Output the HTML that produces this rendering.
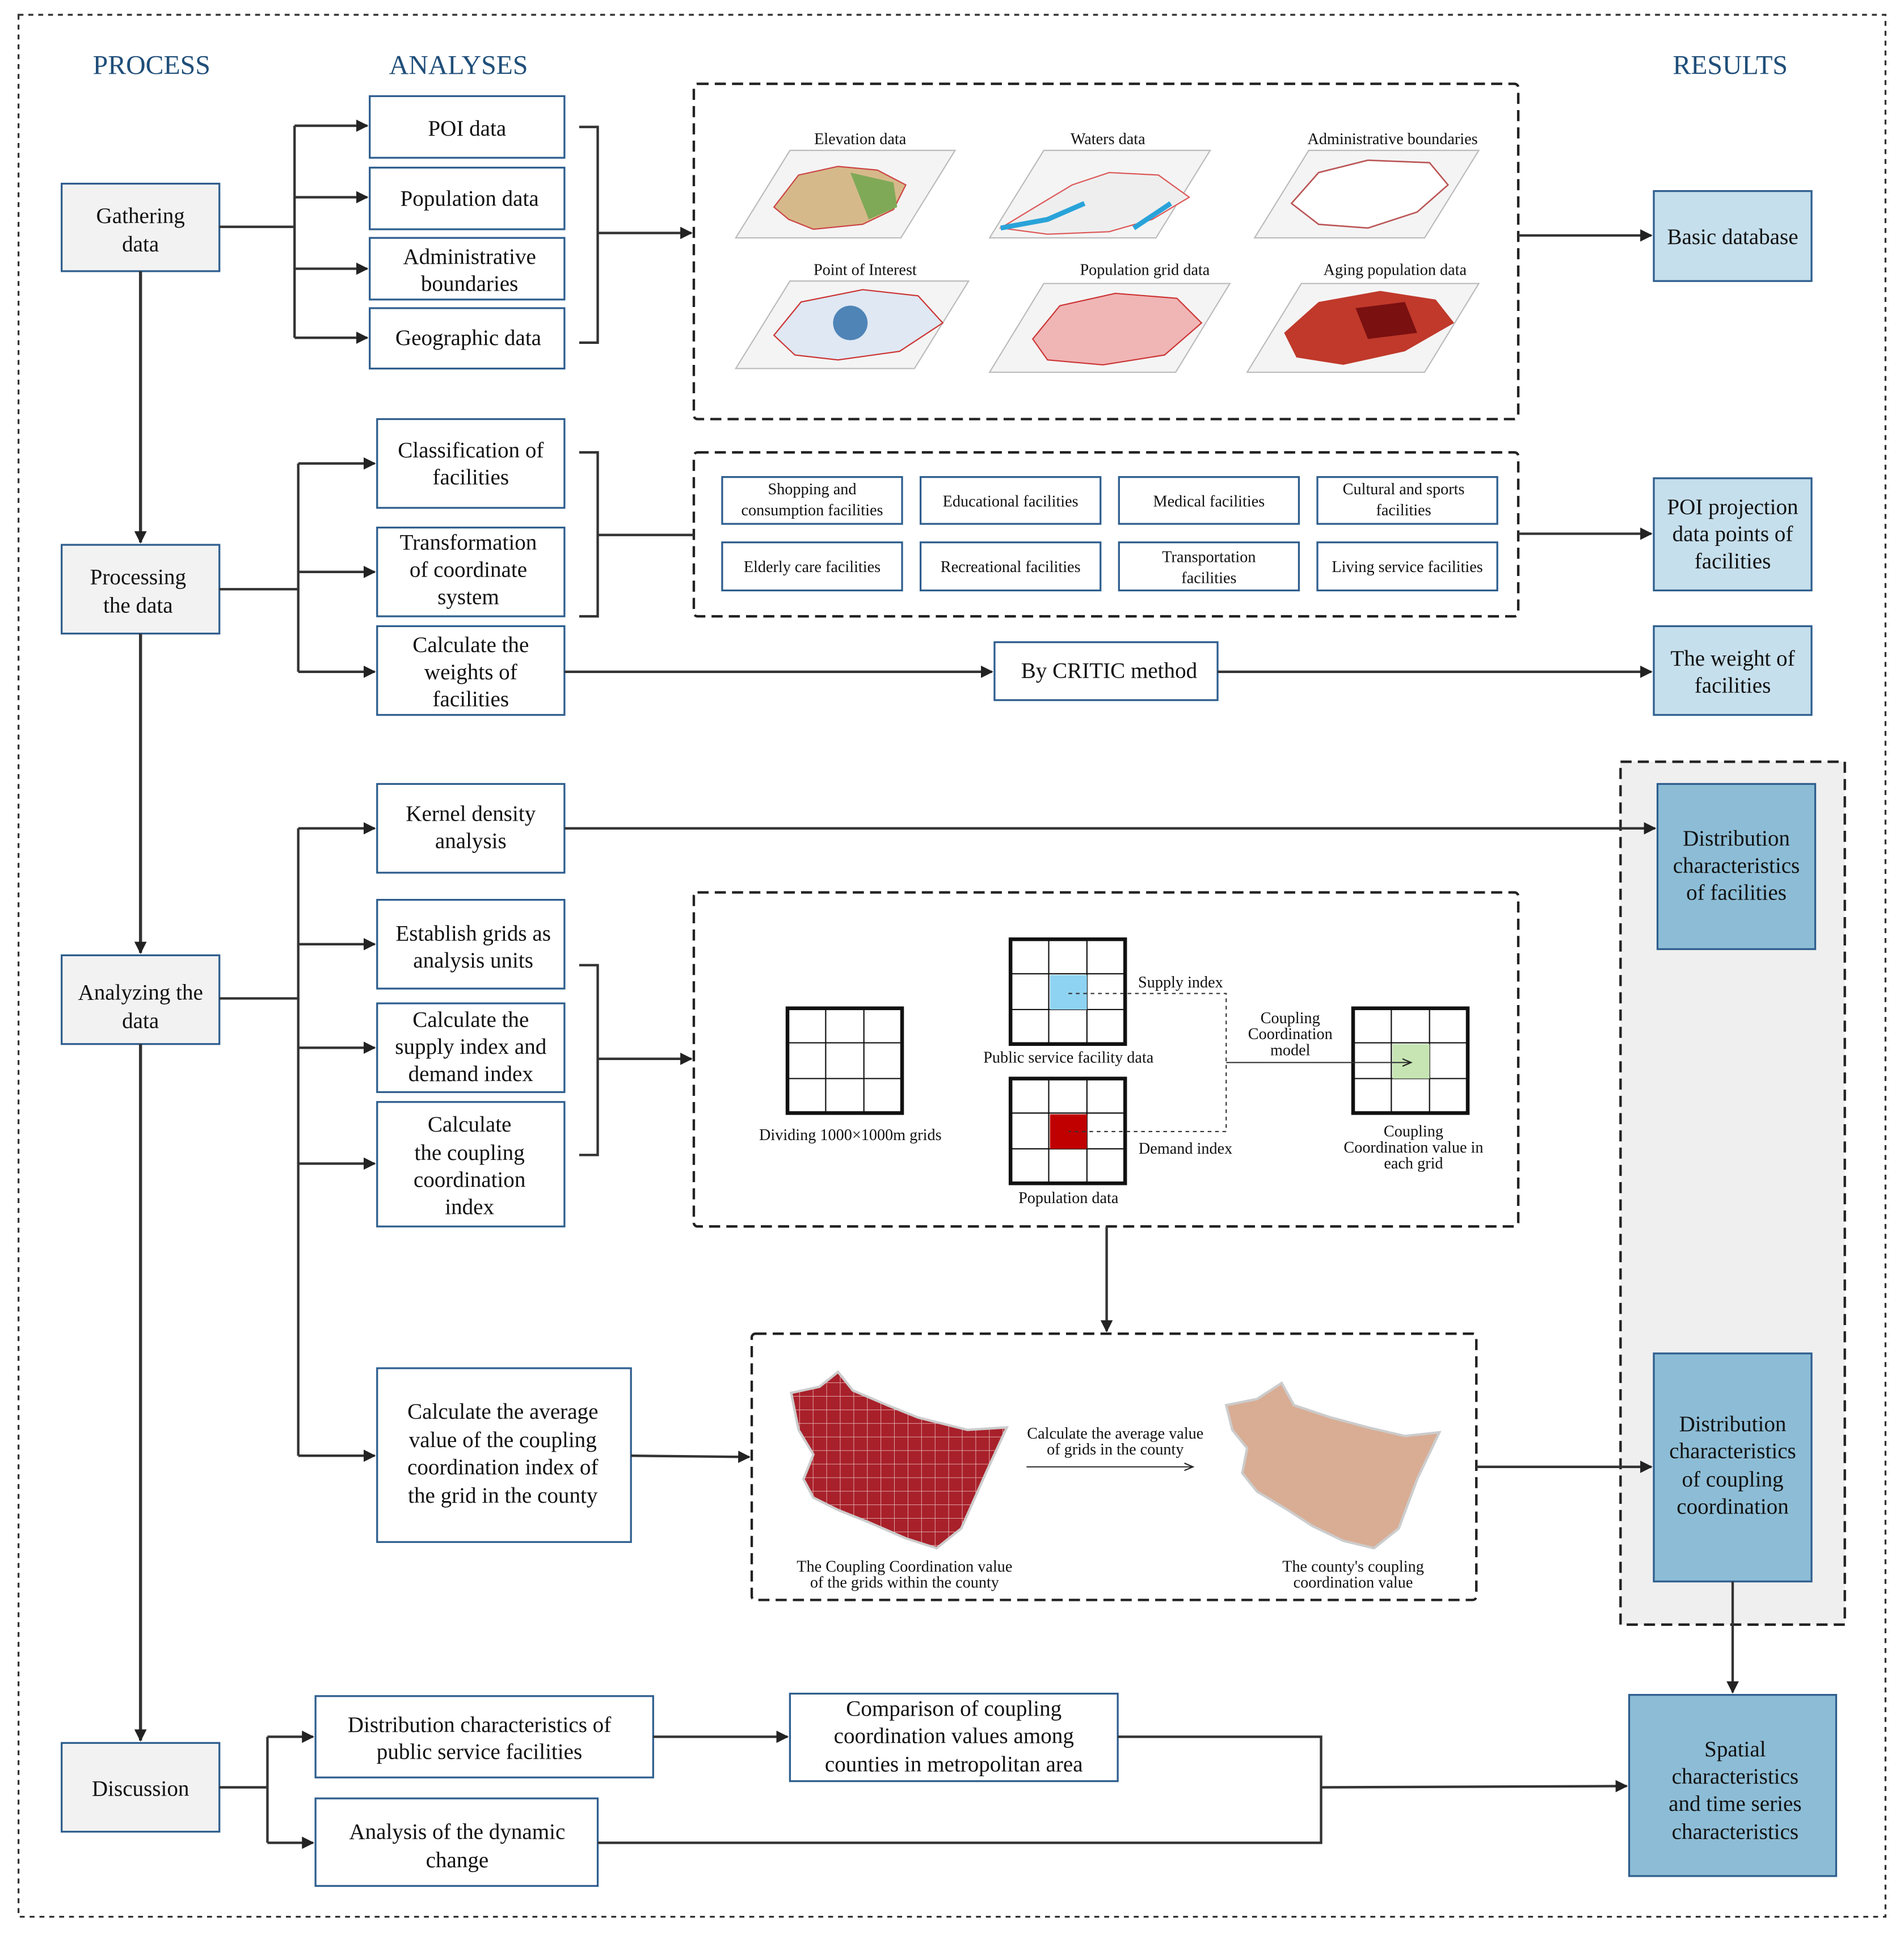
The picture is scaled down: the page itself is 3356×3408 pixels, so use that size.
<!DOCTYPE html>
<html><head><meta charset="utf-8"><style>
html,body{margin:0;padding:0;background:#fff}
svg{display:block}
text{font-family:"Liberation Serif",serif;fill:#111}
</style></head><body>
<svg width="3356" height="3408" viewBox="0 0 1545 1569" xmlns="http://www.w3.org/2000/svg">
<defs>
<marker id="ar" markerWidth="10" markerHeight="10" refX="9" refY="5" orient="auto" markerUnits="userSpaceOnUse"><path d="M0,0 L10,5 L0,10 z" fill="#222"/></marker>
<marker id="as" markerWidth="8" markerHeight="8" refX="7" refY="4" orient="auto" markerUnits="userSpaceOnUse"><path d="M0,1 L7,4 L0,7" fill="none" stroke="#222"/></marker>
<pattern id="gr" width="11" height="11" patternUnits="userSpaceOnUse"><rect width="11" height="11" fill="#a8202a"/><path d="M11,0 V11 H0" stroke="#e9b7b7" stroke-width="0.8" fill="none"/></pattern>
</defs>
<rect width="1545" height="1569" fill="#fff"/>
<rect x="15" y="12" width="1515" height="1543" fill="none" stroke="#333" stroke-width="1.5" stroke-dasharray="4,4"/>
<g font-size="22" style="fill:#1f4e79">
<text x="123" y="60" text-anchor="middle" style="fill:#1f4e79">PROCESS</text>
<text x="372" y="60" text-anchor="middle" style="fill:#1f4e79">ANALYSES</text>
<text x="1404" y="60" text-anchor="middle" style="fill:#1f4e79">RESULTS</text>
</g>
<!-- results panel -->
<rect x="1315" y="618" width="182" height="700" fill="#efefef" stroke="#222" stroke-width="2" stroke-dasharray="9,5"/>
<g stroke="#2e5e8e" stroke-width="1.5" fill="#f2f2f2">
<rect x="50" y="149" width="128" height="71"/>
<rect x="50" y="442" width="128" height="72"/>
<rect x="50" y="775" width="128" height="72"/>
<rect x="50" y="1414" width="128" height="72"/>
</g>
<g stroke="#2e5e8e" stroke-width="1.5" fill="#fff">
<rect x="300" y="78" width="158" height="50"/>
<rect x="300" y="136" width="158" height="50"/>
<rect x="300" y="193" width="158" height="50"/>
<rect x="300" y="250" width="158" height="49"/>
<rect x="306" y="340" width="152" height="72"/>
<rect x="306" y="428" width="152" height="72"/>
<rect x="306" y="508" width="152" height="72"/>
<rect x="807" y="521" width="181" height="47"/>
<rect x="306" y="636" width="152" height="72"/>
<rect x="306" y="730" width="152" height="72"/>
<rect x="306" y="814" width="152" height="72"/>
<rect x="306" y="894" width="152" height="101"/>
<rect x="306" y="1110" width="206" height="141"/>
<rect x="256" y="1376" width="274" height="66"/>
<rect x="256" y="1459" width="229" height="71"/>
<rect x="641" y="1374" width="266" height="71"/>
<rect x="586" y="387" width="146" height="38"/><rect x="747" y="387" width="146" height="38"/><rect x="908" y="387" width="146" height="38"/><rect x="1069" y="387" width="146" height="38"/>
<rect x="586" y="440" width="146" height="39"/><rect x="747" y="440" width="146" height="39"/><rect x="908" y="440" width="146" height="39"/><rect x="1069" y="440" width="146" height="39"/>
</g>
<g stroke="#2e5e8e" stroke-width="1.5">
<rect x="1342" y="155" width="128" height="73" fill="#c6dfec"/>
<rect x="1342" y="388" width="128" height="91" fill="#c6dfec"/>
<rect x="1342" y="508" width="128" height="72" fill="#c6dfec"/>
<rect x="1345" y="636" width="128" height="134" fill="#8dbdd6"/>
<rect x="1342" y="1098" width="128" height="185" fill="#8dbdd6"/>
<rect x="1322" y="1375" width="168" height="147" fill="#8dbdd6"/>
</g>
<!-- dashed boxes -->
<g fill="none" stroke="#222" stroke-width="2" stroke-dasharray="9,5">
<rect x="563" y="68" width="669" height="272" rx="3"/>
<rect x="563" y="367" width="669" height="133" rx="3"/>
<rect x="563" y="724" width="669" height="271" rx="3"/>
<rect x="610" y="1082" width="588" height="216" rx="3"/>
</g>
<!-- connectors -->
<g stroke="#333" stroke-width="2.5" fill="none">
<path d="M114,220 V440" marker-end="url(#ar)"/>
<path d="M114,514 V773" marker-end="url(#ar)"/>
<path d="M114,847 V1412" marker-end="url(#ar)"/>
</g>
<g stroke="#333" stroke-width="2" fill="none">
<path d="M178,184 H239 M239,102 V274"/>
<path d="M239,102 H298" marker-end="url(#ar)"/><path d="M239,160 H298" marker-end="url(#ar)"/><path d="M239,218 H298" marker-end="url(#ar)"/><path d="M239,274 H298" marker-end="url(#ar)"/>
<path d="M470,103 H485 V278 H470"/><path d="M485,189 H561" marker-end="url(#ar)"/>
<path d="M1232,191 H1340" marker-end="url(#ar)"/>
<path d="M178,478 H242 M242,376 V545"/>
<path d="M242,376 H304" marker-end="url(#ar)"/><path d="M242,464 H304" marker-end="url(#ar)"/><path d="M242,545 H304" marker-end="url(#ar)"/>
<path d="M470,367 H485 V500 H470 M485,434 H563"/>
<path d="M1232,433 H1340" marker-end="url(#ar)"/>
<path d="M458,545 H805" marker-end="url(#ar)"/><path d="M988,545 H1340" marker-end="url(#ar)"/>
<path d="M178,810 H242 M242,672 V1181"/>
<path d="M242,672 H304" marker-end="url(#ar)"/><path d="M242,766 H304" marker-end="url(#ar)"/><path d="M242,850 H304" marker-end="url(#ar)"/><path d="M242,944 H304" marker-end="url(#ar)"/><path d="M242,1181 H304" marker-end="url(#ar)"/>
<path d="M458,672 H1343" marker-end="url(#ar)"/>
<path d="M470,783 H485 V937 H470"/><path d="M485,859 H561" marker-end="url(#ar)"/>
<path d="M898,995 V1080" marker-end="url(#ar)"/>
<path d="M512,1181 L608,1182" marker-end="url(#ar)"/>
<path d="M1198,1190 H1340" marker-end="url(#ar)"/>
<path d="M1406,1283 V1373" marker-end="url(#ar)"/>
<path d="M178,1450 H217 M217,1409 V1495"/>
<path d="M217,1409 H254" marker-end="url(#ar)"/><path d="M217,1495 H254" marker-end="url(#ar)"/>
<path d="M530,1409 H639" marker-end="url(#ar)"/>
<path d="M907,1409 H1072 V1495 H485"/>
<path d="M1072,1450 L1320,1449" marker-end="url(#ar)"/>
</g>
<!-- box texts -->
<g font-size="18" text-anchor="middle">
<text x="114" y="181">Gathering</text><text x="114" y="204">data</text>
<text x="112" y="474">Processing</text><text x="112" y="497">the data</text>
<text x="114" y="811">Analyzing the</text><text x="114" y="834">data</text>
<text x="114" y="1457">Discussion</text>
<text x="379" y="110">POI data</text>
<text x="381" y="167">Population data</text>
<text x="381" y="214">Administrative</text><text x="381" y="236">boundaries</text>
<text x="380" y="280">Geographic data</text>
<text x="382" y="371">Classification of</text><text x="382" y="393">facilities</text>
<text x="380" y="446">Transformation</text><text x="380" y="468">of  coordinate</text><text x="380" y="490">system</text>
<text x="382" y="529">Calculate the</text><text x="382" y="551">weights of</text><text x="382" y="573">facilities</text>
<text x="900" y="550">By CRITIC method</text>
<text x="382" y="666">Kernel density</text><text x="382" y="688">analysis</text>
<text x="384" y="763">Establish grids as</text><text x="384" y="785">analysis units</text>
<text x="382" y="833">Calculate the</text><text x="382" y="855">supply index and</text><text x="382" y="877">demand index</text>
<text x="381" y="918">Calculate</text><text x="381" y="941">the coupling</text><text x="381" y="963">coordination</text><text x="381" y="985">index</text>
<text x="408" y="1151">Calculate the average</text><text x="408" y="1174">value of the coupling</text><text x="408" y="1196">coordination index of</text><text x="408" y="1219">the grid in the county</text>
<text x="389" y="1405">Distribution characteristics of</text><text x="389" y="1427">public service facilities</text>
<text x="371" y="1492">Analysis of the dynamic</text><text x="371" y="1515">change</text>
<text x="774" y="1392">Comparison of coupling</text><text x="774" y="1414">coordination values among</text><text x="774" y="1437">counties in metropolitan area</text>
<text x="1406" y="198">Basic database</text>
<text x="1406" y="417">POI projection</text><text x="1406" y="439">data points of</text><text x="1406" y="461">facilities</text>
<text x="1406" y="540">The weight of</text><text x="1406" y="562">facilities</text>
<text x="1409" y="686">Distribution</text><text x="1409" y="708">characteristics</text><text x="1409" y="730">of facilities</text>
<text x="1406" y="1161">Distribution</text><text x="1406" y="1183">characteristics</text><text x="1406" y="1206">of coupling</text><text x="1406" y="1228">coordination</text>
<text x="1408" y="1425">Spatial</text><text x="1408" y="1447">characteristics</text><text x="1408" y="1469">and time series</text><text x="1408" y="1492">characteristics</text>
</g>
<g font-size="13" text-anchor="middle">
<text x="659" y="401">Shopping and</text><text x="659" y="418">consumption facilities</text>
<text x="820" y="411">Educational facilities</text>
<text x="981" y="411">Medical facilities</text>
<text x="1139" y="401">Cultural and sports</text><text x="1139" y="418">facilities</text>
<text x="659" y="464">Elderly care facilities</text>
<text x="820" y="464">Recreational facilities</text>
<text x="981" y="456">Transportation</text><text x="981" y="473">facilities</text>
<text x="1142" y="464">Living service facilities</text>
</g>
<!-- maps -->
<g font-size="13" text-anchor="middle">
<text x="698" y="117">Elevation data</text><text x="899" y="117">Waters data</text><text x="1130" y="117">Administrative boundaries</text>
<text x="702" y="223">Point of Interest</text><text x="929" y="223">Population grid data</text><text x="1132" y="223">Aging population data</text>
</g>
<g stroke="#bbb" stroke-width="1" fill="#f4f4f4">
<polygon points="597,193 641,122 775,122 731,193"/>
<polygon points="803,193 847,122 982,122 938,193"/>
<polygon points="1018,193 1062,122 1200,122 1156,193"/>
<polygon points="597,299 641,228 786,228 742,299"/>
<polygon points="803,302 847,230 998,230 954,302"/>
<polygon points="1012,302 1056,230 1200,230 1156,302"/>
</g>
<path d="M628,168 L648,142 L680,135 L712,138 L735,150 L725,170 L700,182 L660,186 L640,178 Z" fill="#d6b98a" stroke="#c44" stroke-width="1"/>
<path d="M690,140 L725,148 L728,168 L705,178 Z" fill="#7fa957"/>
<path d="M812,185 L840,168 L870,150 L900,140 L940,142 L965,160 L935,178 L900,188 L850,190 Z" fill="#eee" stroke="#d55" stroke-width="1"/>
<path d="M812,185 L850,178 L880,165 M920,185 L950,165" stroke="#29a3d9" stroke-width="4" fill="none"/>
<path d="M1048,165 L1070,140 L1110,130 L1160,132 L1175,150 L1150,172 L1110,185 L1070,182 Z" fill="#fff" stroke="#b55" stroke-width="1.2"/>
<path d="M628,272 L650,245 L700,235 L745,240 L765,262 L730,285 L680,292 L645,288 Z" fill="#dfe8f3" stroke="#c33" stroke-width="1"/>
<circle cx="690" cy="262" r="14" fill="#2a6aa8" opacity=".8"/>
<path d="M838,275 L860,248 L905,238 L955,242 L975,262 L945,288 L895,296 L850,292 Z" fill="#f0b5b5" stroke="#c33" stroke-width="1"/>
<path d="M1042,270 L1070,245 L1120,236 L1165,243 L1180,262 L1140,285 L1090,296 L1052,290 Z" fill="#c0392b"/>
<path d="M1100,250 L1140,245 L1150,270 L1110,275 Z" fill="#7a1010"/>
<!-- grids -->
<g fill="none" stroke="#111">
<g stroke-width="1"><path d="M670,818 V903 M701,818 V903 M639,846 H732 M639,875 H732"/>
<path d="M851,762 V847 M882,762 V847 M820,790 H913 M820,819 H913"/>
<path d="M851,875 V960 M882,875 V960 M820,903 H913 M820,932 H913"/>
<path d="M1129,818 V903 M1160,818 V903 M1098,846 H1191 M1098,875 H1191"/></g>
</g>
<rect x="852" y="791" width="30" height="28" fill="#8fd3f2"/>
<rect x="852" y="904" width="30" height="28" fill="#c00000"/>
<rect x="1130" y="847" width="30" height="28" fill="#c6e5b3"/>
<g fill="none" stroke="#111" stroke-width="3">
<rect x="639" y="818" width="93" height="85"/><rect x="820" y="762" width="93" height="85"/><rect x="820" y="875" width="93" height="85"/><rect x="1098" y="818" width="93" height="85"/>
</g>
<path d="M867,806 H995 V918 H867" fill="none" stroke="#333" stroke-width="1" stroke-dasharray="3,3"/>
<path d="M995,862 H1145" fill="none" stroke="#333" stroke-width="1" marker-end="url(#as)"/>
<g font-size="13" text-anchor="middle">
<text x="958" y="801">Supply index</text>
<text x="867" y="862">Public service facility data</text>
<text x="962" y="936">Demand index</text>
<text x="867" y="976">Population data</text>
<text x="690" y="925">Dividing 1000×1000m grids</text>
<text x="1047" y="830">Coupling</text><text x="1047" y="843">Coordination</text><text x="1047" y="856">model</text>
<text x="1147" y="922">Coupling</text><text x="1147" y="935">Coordination value in</text><text x="1147" y="948">each grid</text>
<text x="905" y="1167">Calculate the average value</text><text x="905" y="1180">of grids in the county</text>
<text x="734" y="1275">The Coupling Coordination value</text><text x="734" y="1288">of the grids within the county</text>
<text x="1098" y="1275">The county's coupling</text><text x="1098" y="1288">coordination value</text>
</g>
<path d="M833,1190 H968" fill="none" stroke="#333" stroke-width="1" marker-end="url(#as)"/>
<path d="M642,1130 L665,1125 L680,1113 L692,1128 L720,1140 L745,1150 L785,1160 L817,1158 L800,1195 L780,1240 L760,1256 L735,1248 L705,1235 L680,1225 L660,1215 L652,1200 L660,1180 L648,1160 Z" fill="url(#gr)" stroke="#ccc" stroke-width="2"/>
<path d="M995,1140 L1020,1135 L1040,1122 L1050,1140 L1080,1150 L1110,1158 L1140,1165 L1168,1162 L1150,1200 L1135,1240 L1115,1256 L1090,1250 L1065,1238 L1045,1225 L1020,1210 L1008,1195 L1012,1175 L1000,1160 Z" fill="#d9ad94" stroke="#ccc" stroke-width="2"/>
</svg>
</body></html>
